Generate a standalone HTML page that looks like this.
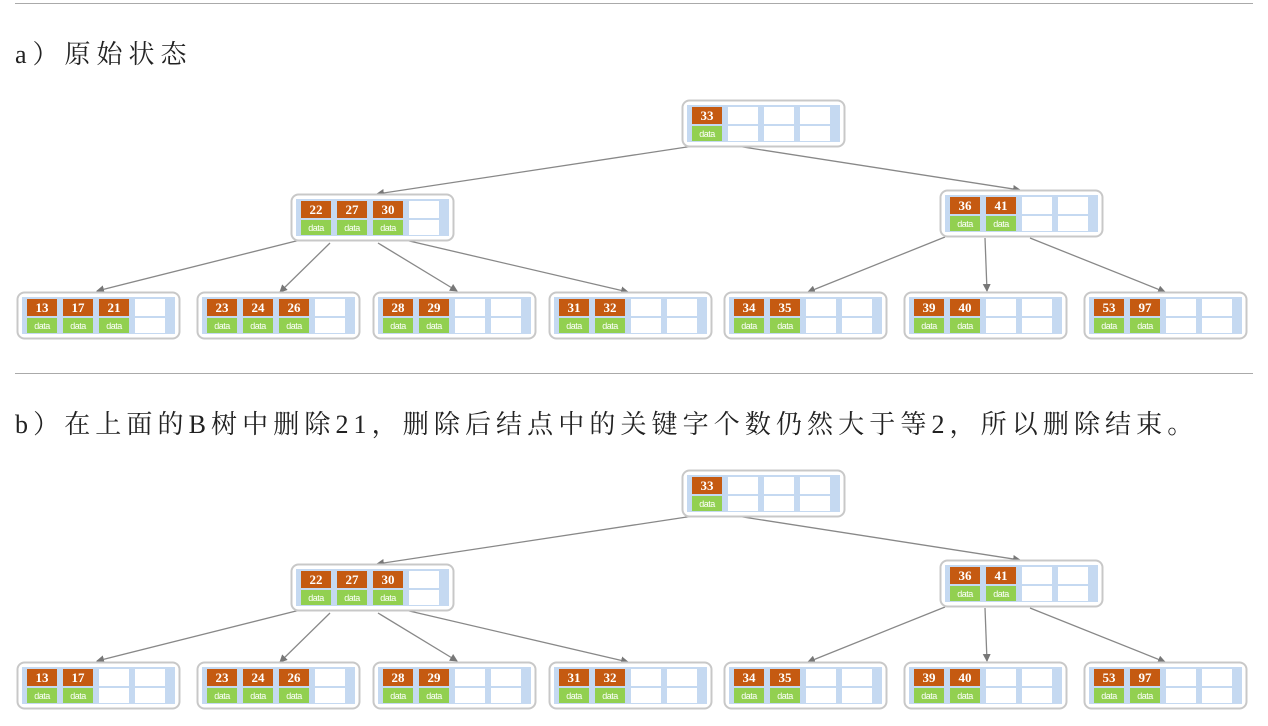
<!DOCTYPE html>
<html><head><meta charset="utf-8"><style>
body{margin:0;background:#fff;width:1268px;height:726px;overflow:hidden;position:relative;font-family:"Liberation Serif","Noto Serif CJK SC",serif}
.t{position:absolute;left:15px;font-size:26px;letter-spacing:6px;color:#222;white-space:nowrap}
</style></head><body>
<div class="t" style="top:34px">a）原始状态</div>
<div class="t" style="top:404px;letter-spacing:5.1px">b）在上面的B树中删除21，删除后结点中的关键字个数仍然大于等2，所以删除结束。</div>
<svg id="s" width="1268" height="726" style="position:absolute;left:0;top:0"></svg>
<script>
var s='';
s+='<line x1="15" y1="3.5" x2="1253" y2="3.5" stroke="#aaa"/><line x1="15" y1="373.5" x2="1253" y2="373.5" stroke="#aaa"/>';
s+='<defs><marker id="m" markerWidth="8" markerHeight="8" refX="7" refY="4" orient="auto" markerUnits="userSpaceOnUse"><path d="M0,0 L8,4 L0,8 z" fill="#777"/></marker></defs>';
function node(x,y,keys){
 var w=162,h=46;
 s+='<rect x="'+(x+0.5)+'" y="'+(y+0.5)+'" width="'+w+'" height="'+h+'" rx="7" fill="#fff" stroke="#c8c8c8" stroke-width="2"/>';
 s+='<rect x="'+(x+5)+'" y="'+(y+5)+'" width="'+(w-9)+'" height="'+(h-9)+'" fill="#c5d9f1"/>';
 for(var i=0;i<4;i++){
  var cx=x+10+i*36,cy=y+7;
  if(i<keys.length){
   s+='<rect x="'+cx+'" y="'+cy+'" width="30" height="17" fill="#c55a11"/>';
   s+='<rect x="'+cx+'" y="'+(cy+19)+'" width="30" height="15" fill="#92d050"/>';
   s+='<text x="'+(cx+15)+'" y="'+(cy+13)+'" fill="#fff" font-size="13" font-weight="bold" text-anchor="middle" font-family="Liberation Serif">'+keys[i]+'</text>';
   s+='<text x="'+(cx+15)+'" y="'+(cy+30)+'" fill="#fff" font-size="9" text-anchor="middle" font-family="Liberation Sans" letter-spacing="-0.5">data</text>';
  }else{
   var ww=(i==3)?Math.min(30,x+w-6-cx):30;
   s+='<rect x="'+cx+'" y="'+cy+'" width="'+ww+'" height="17" fill="#fff"/>';
   s+='<rect x="'+cx+'" y="'+(cy+19)+'" width="'+ww+'" height="15" fill="#fff"/>';
  }
 }
}
function ln(a,b,c,d){s+='<line x1="'+a+'" y1="'+b+'" x2="'+c+'" y2="'+d+'" stroke="#888" stroke-width="1.3" marker-end="url(#m)"/>';}
function tree(oy,leaf1){
 ln(700,145+oy,377,194+oy);ln(730,145+oy,1020,190+oy);
 ln(300,240+oy,97,291+oy);ln(330,243+oy,280,292+oy);ln(378,243+oy,457,291+oy);ln(405,240+oy,628,292+oy);
 ln(945,237+oy,808,292+oy);ln(985,238+oy,987,291+oy);ln(1030,238+oy,1165,292+oy);
 node(682,100+oy,['33']);
 node(291,194+oy,['22','27','30']);
 node(940,190+oy,['36','41']);
 var L=[[17,leaf1],[197,['23','24','26']],[373,['28','29']],[549,['31','32']],[724,['34','35']],[904,['39','40']],[1084,['53','97']]];
 L.forEach(function(l){node(l[0],292+oy,l[1]);});
}
tree(0,['13','17','21']);
tree(370,['13','17']);
document.getElementById('s').innerHTML=s;
</script>
</body></html>
